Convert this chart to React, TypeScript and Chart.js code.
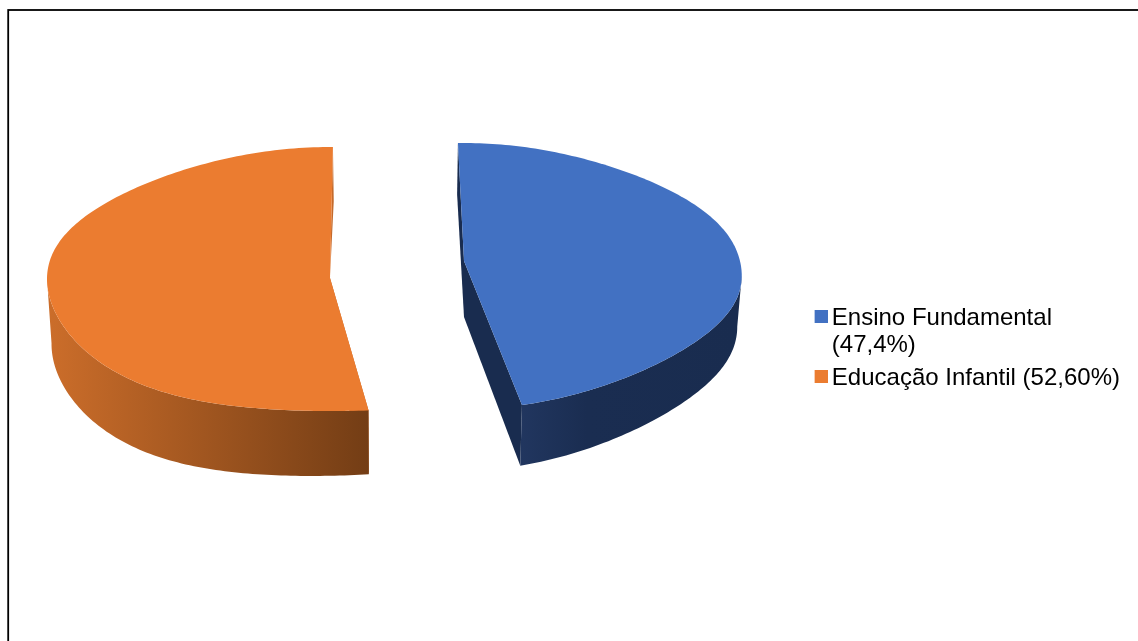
import React, { useEffect, useRef } from "react";
import { Chart, registerables } from "chart.js";

Chart.register(...registerables);

const categories: string[][] = [["Ensino Fundamental", "(47,4%)"], ["Educação Infantil (52,60%)"]];
const shares: number[] = [47.4, 52.6];
const faceColors: string[] = ["#4271C2", "#EB7C30"];

// Perspective view of each exploded slice on the page.
type SliceView = {
  apexX: number; apexY: number; lowApexX: number; spreadX: number;
  above: number; below: number; spinStart: number; spinEnd: number;
  backBow: number; frontBow: number;
  cutColor: string; wallStops: [number, string][]; wallFromX: number; wallToX: number;
};
const sliceViews: SliceView[] = [
  {
    apexX: 464, apexY: 261, lowApexX: 464, spreadX: 276, above: 118, below: 148, spinStart: 0, spinEnd: 0,
    backBow: 4, frontBow: -8,
    cutColor: "#192C4F",
    wallStops: [[0, "#21365F"], [0.3, "#1A2D51"], [1, "#192C4F"]],
    wallFromX: 521, wallToX: 740,
  },
  {
    apexX: 330, apexY: 278, lowApexX: 327, spreadX: 283, above: 131, below: 133, spinStart: 3, spinEnd: 2,
    backBow: 5, frontBow: 7,
    cutColor: "#C56A2B",
    wallStops: [[0, "#CB6D2A"], [1, "#733D15"]],
    wallFromX: 50, wallToX: 370,
  },
];
const vanishX = 395;

function topPoint(v: SliceView, theta: number): [number, number] {
  const k = (v.below - v.above) / (v.below + v.above);
  const ry = (2 * v.above * v.below) / (v.above + v.below);
  const dx = Math.sin(theta);
  const dy = -Math.cos(theta);
  const s = 1 / (1 - k * dy);
  // The lens bows the rim slightly away from a true ellipse.
  const bow = (dy < 0 ? v.backBow : v.frontBow) * Math.sin(2 * theta) ** 2;
  return [v.apexX + v.spreadX * dx * s, v.apexY + ry * dy * s + bow];
}

function dropPoint(p: [number, number]): [number, number] {
  const h = 57.5 + 0.04 * (p[1] - 262) + 0.02 * (vanishX - p[0]);
  return [vanishX + (p[0] - vanishX) * 0.987, p[1] + h];
}

function poly(ctx: CanvasRenderingContext2D, pts: [number, number][], fill: string | CanvasGradient) {
  ctx.beginPath();
  pts.forEach((p, i) => (i ? ctx.lineTo(p[0], p[1]) : ctx.moveTo(p[0], p[1])));
  ctx.closePath();
  ctx.fillStyle = fill;
  ctx.fill();
}

// Draws the pie's arc elements as thick tilted slices instead of flat sectors.
const tiltedPie = {
  id: "tiltedPie",
  beforeDraw(chart: Chart) {
    const ctx = chart.ctx;
    ctx.save();
    ctx.strokeStyle = "#000000";
    ctx.lineWidth = 1.8;
    ctx.strokeRect(8.2, 10, 1400, 900);
    ctx.restore();
  },
  beforeDatasetsDraw(chart: Chart) {
    const ctx = chart.ctx;
    const arcs = chart.getDatasetMeta(0).data as any[];
    arcs.forEach((arc, i) => {
      const v = sliceViews[i];
      const a0 = arc.startAngle + Math.PI / 2 + (v.spinStart * Math.PI) / 180;
      const a1 = arc.endAngle + Math.PI / 2 + (v.spinEnd * Math.PI) / 180;
      const rim: [number, number][] = [];
      const steps = Math.ceil(((a1 - a0) * 180) / Math.PI);
      for (let s = 0; s <= steps; s++) rim.push(topPoint(v, a0 + ((a1 - a0) * s) / steps));
      const apex: [number, number] = [v.apexX, v.apexY];
      const lower = rim.map(dropPoint);
      const lowApex: [number, number] = [v.lowApexX, dropPoint(apex)[1]];

      // Only the front of the rim, between its horizontal extremes, shows a wall.
      const xs = rim.map((p) => p[0]);
      const iRight = xs.indexOf(Math.max(...xs));
      const iLeft = xs.indexOf(Math.min(...xs));
      const from = iRight;
      const to = iLeft > iRight ? iLeft : rim.length - 1;

      // Cut faces, then the curved outer wall, then the top face over both.
      poly(ctx, [apex, rim[0], lower[0], lowApex], v.cutColor);
      poly(ctx, [apex, rim[rim.length - 1], lower[lower.length - 1], lowApex], v.cutColor);
      const grad = ctx.createLinearGradient(v.wallFromX, 0, v.wallToX, 0);
      v.wallStops.forEach(([o, c]) => grad.addColorStop(o, c));
      poly(ctx, [...rim.slice(from, to + 1), ...lower.slice(from, to + 1).reverse()], grad);
      poly(ctx, [apex, ...rim], arc.options.backgroundColor);
    });
    return false;
  },
};

// Legend key: a 13px square placed slightly off-centre in its image.
function swatch(color: string): HTMLCanvasElement {
  const c = document.createElement("canvas");
  c.width = 16;
  c.height = 16;
  const g = c.getContext("2d")!;
  g.fillStyle = color;
  g.fillRect(3, 0, 13, 13);
  return c;
}

export default function App() {
  const ref = useRef<HTMLCanvasElement>(null);
  useEffect(() => {
    const chart = new Chart(ref.current!, {
      type: "pie",
      data: {
        labels: categories as any,
        datasets: [{ data: shares, backgroundColor: faceColors, borderWidth: 0 }],
      },
      options: {
        responsive: false,
        animation: false,
        rotation: -1.4,
        layout: { padding: { right: 8, top: 58, bottom: 0 } },
        plugins: {
          tooltip: { enabled: false },
          legend: {
            position: "right",
            labels: {
              color: "#000000",
              font: { family: "Liberation Sans", size: 24, lineHeight: 1.125 },
              padding: 6,
              usePointStyle: true,
              pointStyleWidth: 0.5,
              boxHeight: 13,
              generateLabels: () =>
                categories.map((text, i) => ({
                  text: text as any,
                  pointStyle: swatch(faceColors[i]),
                  fontColor: "#000000",
                  datasetIndex: 0,
                  index: i,
                })),
            },
          },
        },
      },
      plugins: [tiltedPie],
    } as any);
    return () => chart.destroy();
  }, []);
  return (
    <div style={{ position: "fixed", left: 0, top: 0, width: 1138, height: 641, overflow: "hidden", background: "#fff" }}>
      <canvas ref={ref} width={1138} height={641} style={{ display: "block" }} />
    </div>
  );
}
